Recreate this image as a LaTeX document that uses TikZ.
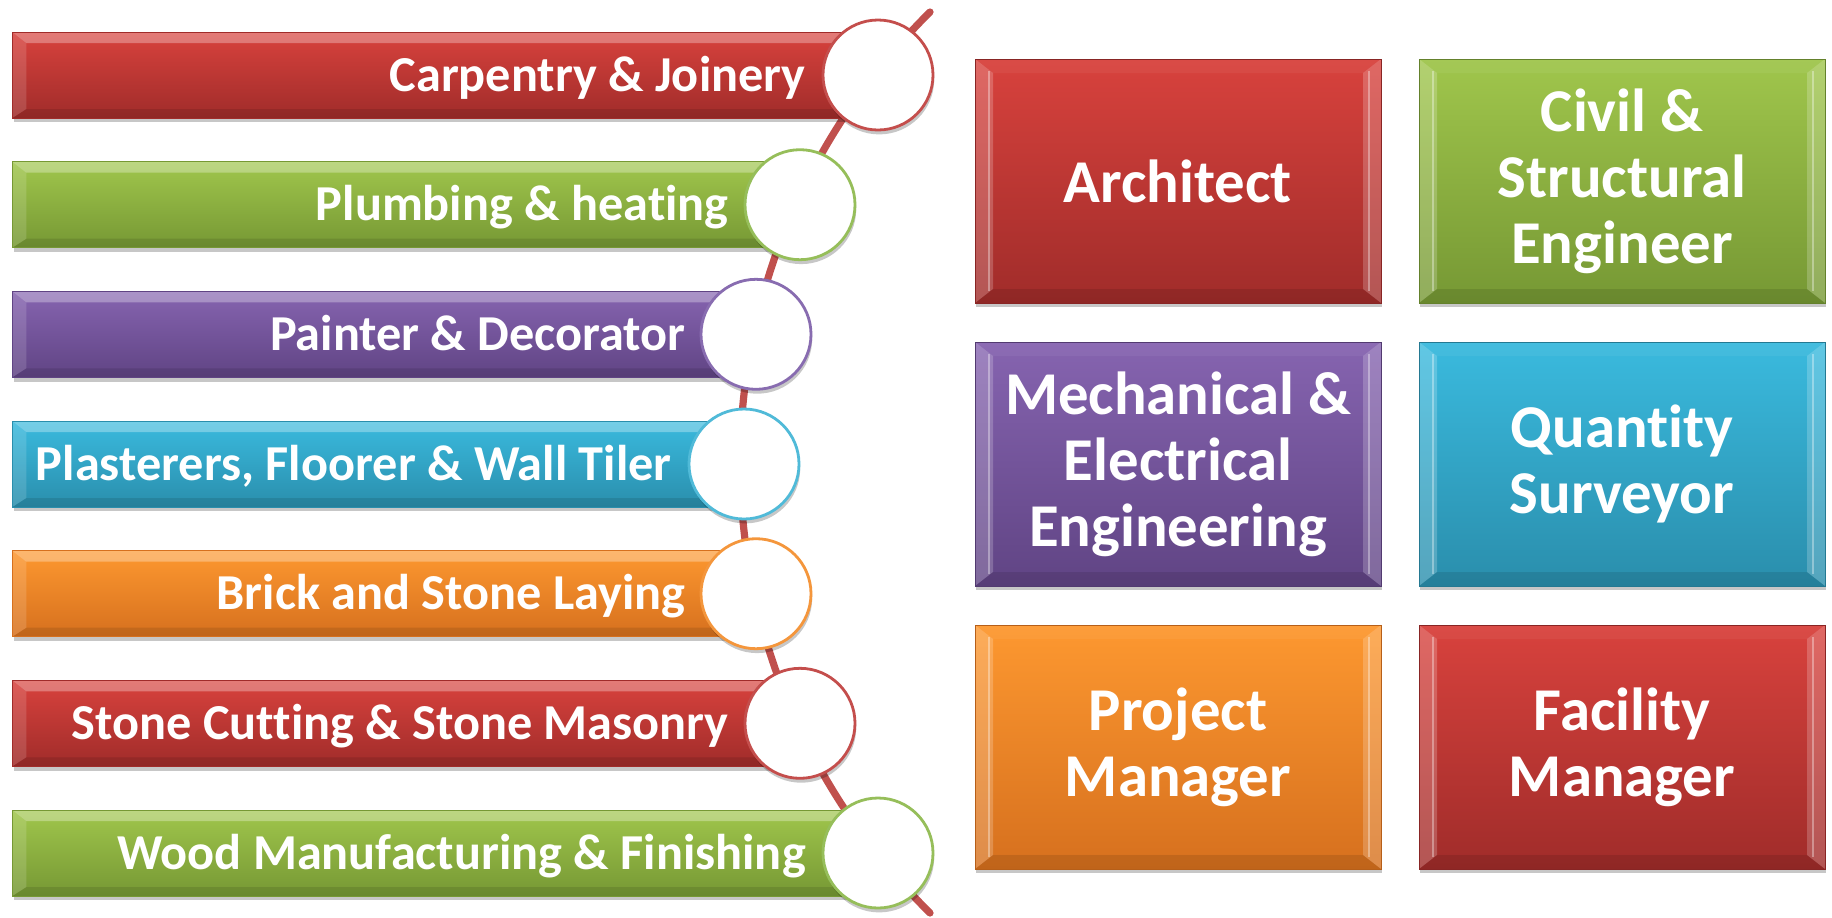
\documentclass[tikz,border=0pt]{standalone}
\usepackage{fontspec}
\setmainfont{Carlito}[Ligatures=CommonOff]
\usetikzlibrary{shadows,calc}
\definecolor{redT}{RGB}{216,66,61}
\definecolor{redB}{RGB}{160,44,42}
\definecolor{redR}{RGB}{196,78,76}
\definecolor{greenT}{RGB}{160,198,76}
\definecolor{greenB}{RGB}{118,152,52}
\definecolor{greenR}{RGB}{150,190,90}
\definecolor{purpleT}{RGB}{134,100,176}
\definecolor{purpleB}{RGB}{96,68,132}
\definecolor{purpleR}{RGB}{136,108,176}
\definecolor{tealT}{RGB}{58,186,222}
\definecolor{tealB}{RGB}{42,142,172}
\definecolor{tealR}{RGB}{80,186,216}
\definecolor{orangeT}{RGB}{253,152,48}
\definecolor{orangeB}{RGB}{214,112,30}
\definecolor{orangeR}{RGB}{244,150,60}
\definecolor{spineC}{RGB}{192,80,77}
\tikzset{
  shade/.style={drop shadow={shadow xshift=0.6pt,shadow yshift=-2.2pt,opacity=0.22,fill=black}},
  barbevel/.style={path picture={
    \coordinate (nw) at (path picture bounding box.north west);
    \coordinate (ne) at (path picture bounding box.north east);
    \coordinate (sw) at (path picture bounding box.south west);
    \coordinate (se) at (path picture bounding box.south east);
    \fill[white,opacity=.30] (nw) -- (ne) -- ($(ne)+(0,11)$) -- ($(nw)+(14,11)$) -- cycle;
    \fill[white,opacity=.14] (nw) -- ($(nw)+(14,11)$) -- ($(sw)+(14,-9)$) -- (sw) -- cycle;
    \fill[black,opacity=.10] (sw) -- ($(sw)+(14,-9)$) -- ($(se)+(0,-9)$) -- (se) -- cycle;
  }},
  boxbevel/.style={path picture={
    \coordinate (nw) at (path picture bounding box.north west);
    \coordinate (ne) at (path picture bounding box.north east);
    \coordinate (sw) at (path picture bounding box.south west);
    \coordinate (se) at (path picture bounding box.south east);
    \fill[white,opacity=.20] (nw) -- ($(nw)+(18,14)$) -- ($(sw)+(18,-14)$) -- (sw) -- cycle;
    \fill[white,opacity=.20] (ne) -- ($(ne)+(-18,14)$) -- ($(se)+(-18,-14)$) -- (se) -- cycle;
    \draw[white,opacity=.35,line width=1.2pt] ($(nw)+(14,12)$) -- ($(sw)+(14,-12)$);
    \draw[white,opacity=.35,line width=1.2pt] ($(ne)+(-12,12)$) -- ($(se)+(-12,-12)$);
    \fill[white,opacity=.05] (nw) -- (ne) -- ($(ne)+(-18,14)$) -- ($(nw)+(18,14)$) -- cycle;
    \fill[black,opacity=.10] (sw) -- (se) -- ($(se)+(-18,-14)$) -- ($(sw)+(18,-14)$) -- cycle;
  }},
  bar/.style={rectangle,anchor=west,minimum height=43pt,inner sep=0pt,shade,barbevel,
    top color=#1T,bottom color=#1B,draw=#1B,line width=0.4pt},
  ring/.style={circle,minimum size=55pt,inner sep=0pt,fill=white,draw=#1R,line width=1.4pt,shade},
  bartext/.style={anchor=base east,text=white,font=\bfseries\fontsize{25.15pt}{30pt}\selectfont,inner sep=0pt},
  tile/.style={rectangle,minimum width=203pt,minimum height=122pt,inner sep=0pt,shade,boxbevel,
    top color=#1T,bottom color=#1B,draw=#1B!85!black,line width=0.5pt,
    text=white,align=center,font=\bfseries\fontsize{30.4pt}{33pt}\selectfont},
  spine/.style={draw=spineC,line width=3.6pt,line cap=round},
}
\begin{document}
\begin{tikzpicture}[x=0.5pt,y=-0.5pt]
\useasboundingbox (0,0) rectangle (1832,917);
% spine
\coordinate (ltop) at (930,12);
\coordinate (lbot) at (930,913);
\draw[spine] (ltop) .. controls (677,263) and (677,662) .. (lbot);
% bars
\node[bar=red,minimum width=433pt] (b1) at (12,75) {};
\node[bar=green,minimum width=394pt] (b2) at (12,204.7) {};
\node[bar=purple,minimum width=372pt] (b3) at (12,334.3) {};
\node[bar=teal,minimum width=366pt] (b4) at (12,464) {};
\node[bar=orange,minimum width=372pt] (b5) at (12,593.7) {};
\node[bar=red,minimum width=394pt] (b6) at (12,723.3) {};
\node[bar=green,minimum width=433pt] (b7) at (12,853) {};
% circles
\node[ring=red] (c1) at (878,75) {};
\node[ring=green] (c2) at (800,204.7) {};
\node[ring=purple] (c3) at (756,334.3) {};
\node[ring=teal] (c4) at (744,464) {};
\node[ring=orange] (c5) at (756,593.7) {};
\node[ring=red] (c6) at (800,723.3) {};
\node[ring=green] (c7) at (878,853) {};
% bar labels
\node[bartext] (t1) at (806,91) {Carpentry \& Joinery};
\node[bartext] (t2) at (729,220.7) {Plumbing \& heating};
\node[bartext] (t3) at (686,350.3) {Painter \& Decorator};
\node[bartext] (t4) at (672,480) {Plasterers, Floorer \& Wall Tiler};
\node[bartext] (t5) at (686,609.7) {Brick and Stone Laying};
\node[bartext] (t6) at (729,739.3) {Stone Cutting \& Stone Masonry};
\node[bartext] (t7) at (806,869) {Wood Manufacturing \& Finishing};
% tiles
\node[tile=red] (arch) at (1178,181) {Architect};
\node[tile=green] (civil) at (1622,181) {Civil \&\\Structural\\Engineer};
\node[tile=purple] (mech) at (1178,464) {Mechanical \&\\Electrical\\Engineering};
\node[tile=teal] (qs) at (1622,464) {Quantity\\Surveyor};
\node[tile=orange] (pm) at (1178,747) {Project\\Manager};
\node[tile=red] (fm) at (1622,747) {Facility\\Manager};
\end{tikzpicture}
\end{document}
